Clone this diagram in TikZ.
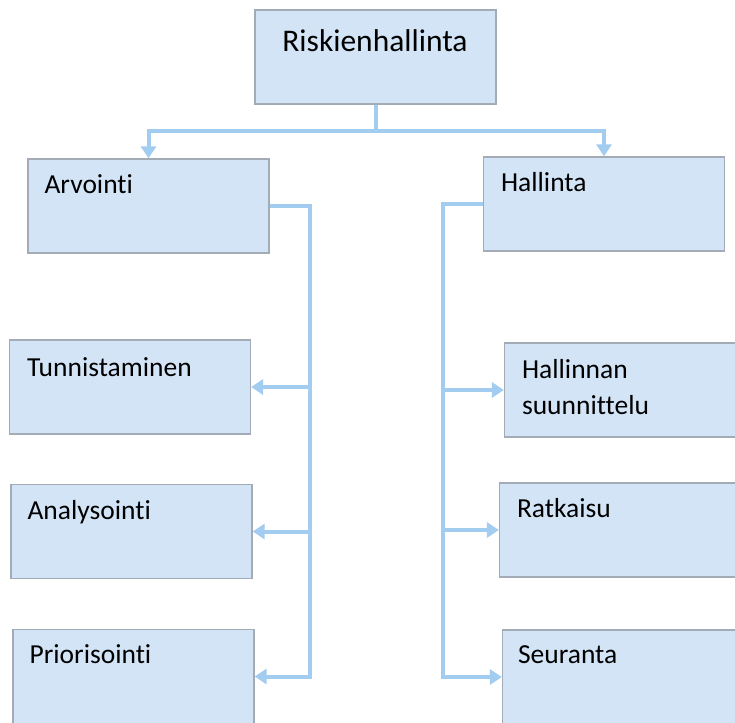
\documentclass[tikz,border=0pt]{standalone}
\usepackage{fontspec}
\setmainfont{Carlito}[Ligatures={NoCommon}]
\usetikzlibrary{arrows.meta,calc}
\definecolor{boxfill}{RGB}{210,228,246}
\definecolor{boxline}{RGB}{163,172,182}
\definecolor{linkblue}{RGB}{162,204,240}
\begin{document}
\begin{tikzpicture}[x=1pt,y=-1pt,
  box/.style={draw=boxline, fill=boxfill, line width=1.3pt, inner sep=0pt,
    minimum width=241pt, minimum height=94pt},
  lbl/.style={anchor=base west, inner sep=0pt, font=\fontsize{27.5}{36}\selectfont},
  conn/.style={draw=linkblue, line width=4pt},
  tip/.style={-{Triangle[length=12pt,width=15pt]}}]
\clip (0,0) rectangle (735,722);
\fill[white] (0,0) rectangle (735,722);

% top node
\node[box] (top) at (375.5,57) {};
\node[anchor=base, inner sep=0pt, font=\fontsize{31.5}{36}\selectfont] (toptxt) at (375,52) {Riskienhallinta};

% left column
\node[box] (arv) at (148.5,206) {};
\node[box] (tun) at (130,387) {};
\node[box] (ana) at (131.5,531.5) {};
\node[box] (pri) at (133.5,676.5) {};

% right column
\node[box] (hal) at (604,204) {};
\node[box] (hsu) at (625,390) {};
\node[box] (rat) at (620,530) {};
\node[box] (seu) at (623,677) {};

% labels
\node[lbl] (arvtxt) at ($(arv.north west)+(17,35)$) {Arvointi};
\node[lbl] (tuntxt) at ($(tun.north west)+(18,37)$) {Tunnistaminen};
\node[lbl] (anatxt) at ($(ana.north west)+(17,36)$) {Analysointi};
\node[lbl] (pritxt) at ($(pri.north west)+(17,35)$) {Priorisointi};
\node[lbl] (haltxt) at ($(hal.north west)+(18,35)$) {Hallinta};
\node[lbl] (hsutxt1) at ($(hsu.north west)+(18,36)$) {Hallinnan};
\node[lbl] (hsutxt2) at ($(hsu.north west)+(18,72)$) {suunnittelu};
\node[lbl] (rattxt) at ($(rat.north west)+(18,35)$) {Ratkaisu};
\node[lbl] (seutxt) at ($(seu.north west)+(16,34)$) {Seuranta};

% bus coordinates
\coordinate (split) at (375.5,131);
\coordinate (lbus) at (310,0);
\coordinate (rbus) at (443,0);

% connectors from the top
\draw[conn] (top.south) -- (split);
\draw[conn, tip] (split) -| (arv.north);
\draw[conn, tip] (split) -| (hal.north);

% left branch
\draw[conn, tip] (arv.east) -| (lbus |- pri.east) -- (pri.east);
\draw[conn, tip] (lbus |- tun.east) -- (tun.east);
\draw[conn, tip] (lbus |- ana.east) -- (ana.east);

% right branch
\draw[conn, tip] (hal.west) -| (rbus |- seu.west) -- (seu.west);
\draw[conn, tip] (rbus |- hsu.west) -- (hsu.west);
\draw[conn, tip] (rbus |- rat.west) -- (rat.west);
\end{tikzpicture}
\end{document}
